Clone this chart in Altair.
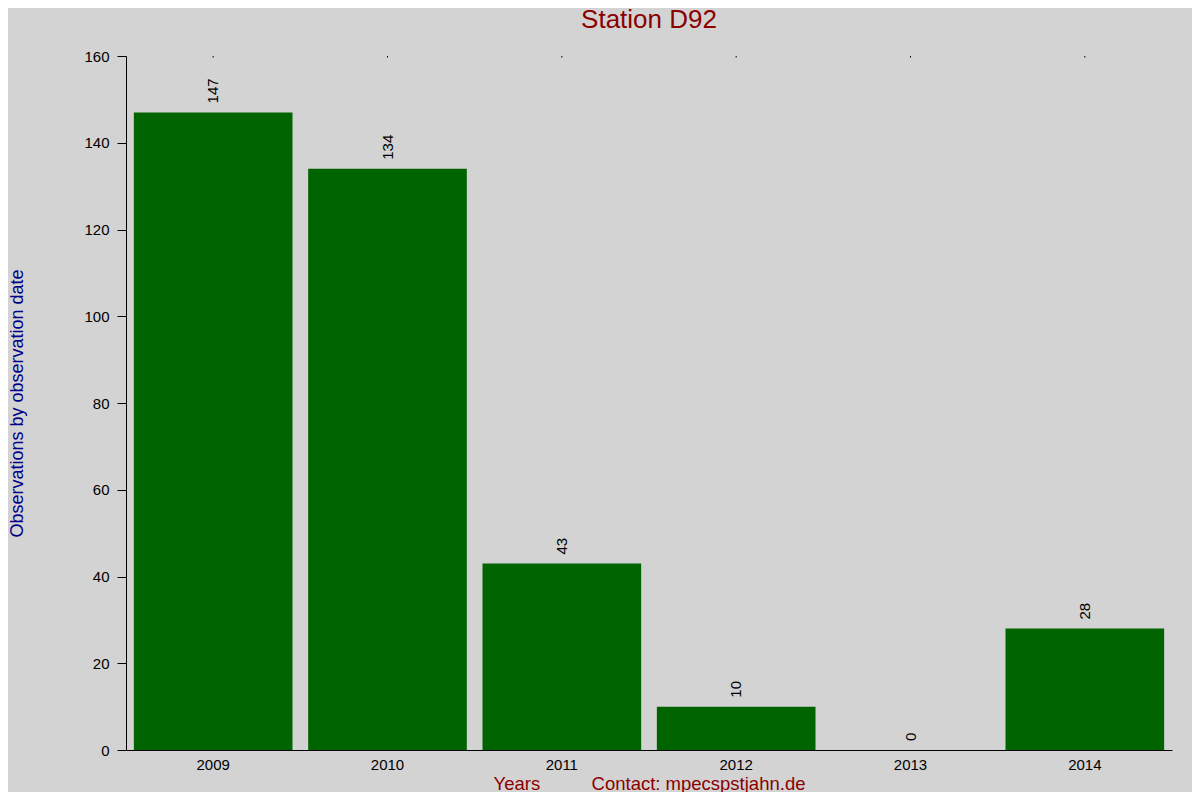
import altair as alt
import pandas as pd

years = ["2009", "2010", "2011", "2012", "2013", "2014"]
counts = [147, 134, 43, 10, 0, 28]

df = pd.DataFrame({"year": years, "count": counts})

FONT = "Liberation Sans"
NBSP = "\u00a0"

x_enc = alt.X("year:N", sort=years,
              scale=alt.Scale(paddingInner=0.09, paddingOuter=0.045),
              axis=alt.Axis(title="Years" + NBSP * 10 + "Contact: mpecspstjahn.de",
                            titleColor="#8B0000", titleFontSize=18.5, titleFontWeight="normal",
                            titleFont=FONT, titleBaseline="alphabetic", titleY=39,
                            labelAngle=0, labelFontSize=15, labelFont=FONT, labelColor="#000000",
                            labelBaseline="alphabetic", labelPadding=19,
                            ticks=False, domainColor="#000000"))

y_enc = alt.Y("count:Q", scale=alt.Scale(domain=[0, 160], nice=False),
              axis=alt.Axis(title="Observations by observation date",
                            values=[0, 20, 40, 60, 80, 100, 120, 140, 160],
                            titleColor="#00008B", titleFontSize=18, titleFontWeight="normal",
                            titleFont=FONT, titleX=-118, titleBaseline="top",
                            labelFontSize=15, labelFont=FONT, labelColor="#000000", labelPadding=8,
                            tickSize=9, tickColor="#000000", domainColor="#000000", grid=False))

bars = alt.Chart(df).mark_bar(color="#006400").encode(x=x_enc, y=y_enc)

labels = alt.Chart(df).mark_text(angle=270, align="left", baseline="middle", dx=9,
                                 fontSize=15, font=FONT, color="#000000").encode(
    x=alt.X("year:N", sort=years), y="count:Q", text="count:Q")

topticks = alt.Chart(df).mark_rule(color="#000000", strokeWidth=1).encode(
    x=alt.X("year:N", sort=years), y=alt.value(0), y2=alt.value(1.5))

chart = alt.layer(bars, labels, topticks).properties(
    width=1046, height=694,
    title=alt.Title("Station D92", fontSize=26, font=FONT, color="#8B0000", fontWeight="normal",
                    offset=16),
    background="#d3d3d3",
    padding={"left": 118, "top": 48, "right": 20, "bottom": 42},
    autosize=alt.AutoSizeParams(type="none"),
).configure_view(stroke=None).configure_axis(domainWidth=1, tickWidth=1)

chart.save("out.html", embed_options={"renderer": "svg", "actions": False})
